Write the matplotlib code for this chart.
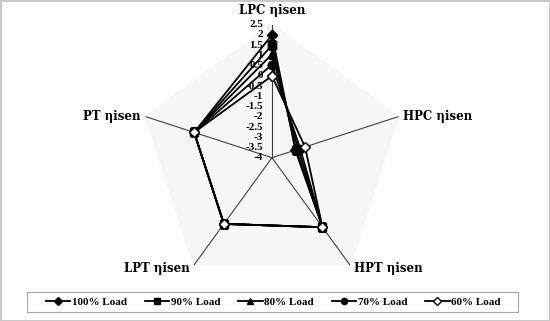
import numpy as np
import matplotlib.pyplot as plt
from matplotlib.lines import Line2D
from matplotlib.patches import Rectangle

# axes of the radar chart (clockwise from the top)
categories = ["LPC ηisen", "HPC ηisen", "HPT ηisen", "LPT ηisen", "PT ηisen"]
loads = ["100% Load", "90% Load", "80% Load", "70% Load", "60% Load"]

# values, one list per load case
load_100 = [2.0, -2.8, 0.2, 0.0, 0.0]
load_90 = [1.5, -2.75, 0.2, 0.0, 0.0]
load_80 = [1.05, -2.65, 0.2, 0.0, 0.0]
load_70 = [0.55, -2.55, 0.2, 0.0, 0.0]
load_60 = [0.0, -2.3, 0.2, 0.0, 0.0]

r_min, r_max = -4, 2.5
tick_values = [2.5, 2, 1.5, 1, 0.5, 0, -0.5, -1, -1.5, -2, -2.5, -3, -3.5, -4]

series = [load_100, load_90, load_80, load_70, load_60]
markers = ["D", "s", "^", "o", "D"]
sizes = [5.5, 6, 6, 6, 5.5]
faces = ["black", "black", "black", "black", "white"]

plt.rcParams["font.family"] = ["Liberation Serif", "DejaVu Serif"]
plt.rcParams["font.weight"] = "bold"

fig = plt.figure(figsize=(5.5, 3.21), dpi=100)
fig.patch.set_edgecolor("#c8c8c8")
fig.patch.set_linewidth(1.0)

ax = fig.add_axes([0.2527, 0.0944, 0.4836, 0.8287], projection="polar")
ax.set_theta_offset(np.pi / 2)
ax.set_theta_direction(-1)
ax.set_ylim(r_min, r_max)

angles = np.linspace(0, 2 * np.pi, len(categories), endpoint=False)
closed = np.append(angles, angles[0])

# light pentagon background
ax.fill(closed, [r_max] * (len(categories) + 1), color="#f7f7f7", zorder=0)

# spokes
for a in angles:
    ax.plot([a, a], [r_min, r_max], color="#404040", lw=0.8, zorder=1)

ax.grid(False)
ax.spines["polar"].set_visible(False)
ax.set_xticks([])
ax.set_yticks([])
ax.patch.set_alpha(0)

for vals, lab, m, ms, fc in zip(series, loads, markers, sizes, faces):
    ax.plot(closed, vals + vals[:1], color="black", lw=1.3, marker=m,
            markersize=ms, markerfacecolor=fc, markeredgecolor="black",
            markeredgewidth=1.0, label=lab, zorder=3)

# radial tick labels along the top spoke
for t in tick_values:
    ax.annotate(f"{t:g}", xy=(0, t), xytext=(-9, 0), textcoords="offset pixels",
                ha="right", va="center", fontsize=8)

# category labels
offsets = [(0, 8, "center", "bottom"), (5, 0, "left", "center"),
           (4, -3, "left", "center"), (-4, -3, "right", "center"),
           (-5, 0, "right", "center")]
for a, name, (dx, dy, ha, va) in zip(angles, categories, offsets):
    ax.annotate(name, xy=(a, r_max), xytext=(dx, dy),
                textcoords="offset pixels", ha=ha, va=va, fontsize=8.5,
                family="DejaVu Serif", annotation_clip=False)

# legend, with its frame drawn as a separate box
handles = [Line2D([], [], color="black", lw=1.3, marker=m, markersize=ms - 1.5,
                  markerfacecolor=fc, markeredgecolor="black")
           for m, ms, fc in zip(markers, sizes, faces)]
fig.legend(handles, loads, loc="center", bbox_to_anchor=(0.497, 0.059),
           ncol=5, fontsize=8, frameon=False, handlelength=2.2,
           handletextpad=0.15, columnspacing=1.6)
fig.patches.append(Rectangle((27 / 550, 9 / 321), 491 / 550, 20 / 321,
                             transform=fig.transFigure, fill=False,
                             edgecolor="#a6a6a6", lw=0.8))

fig.savefig("out.png", dpi=100)
